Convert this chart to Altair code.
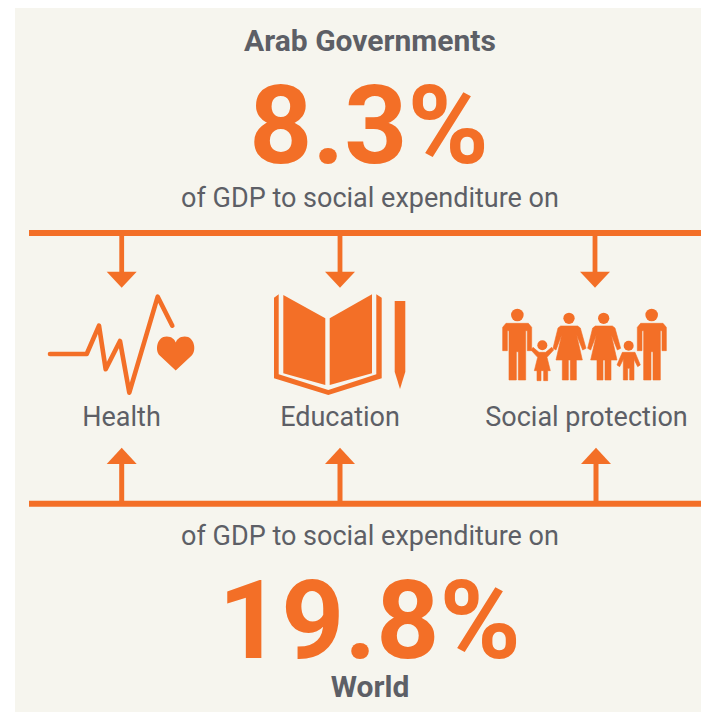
import altair as alt
import pandas as pd

ORANGE = "#F36F27"
PANEL = "#F6F5EE"
INK = "#5D5F66"
BODY = "Roboto"

# ---- text content
top_title = "Arab Governments"
top_value = "8.3%"
bottom_value = "19.8%"
bottom_title = "World"
caption = "of GDP to social expenditure on"
categories = ["Health", "Education", "Social protection"]

# ---- layout (picture pixels)
arrow_top_x = [121.7, 340, 595]
arrow_bottom_x = [121.7, 340, 596]
label_x = [121.5, 340, 586.5]

ecg_x = [50, 86.7, 99, 105.7, 120, 129.3, 157.7, 172.3]
ecg_y = [354, 354, 325.7, 369.3, 341, 392.7, 296.7, 325.7]

book_left = [(283.3, 295), (325.3, 318.3), (325.3, 385), (283.3, 373.3)]
book_right = [(329.7, 318.3), (372, 294.3), (372, 373.3), (329.7, 385)]
book_cover = [(274, 297.7), (278.7, 294.3), (278.7, 374.3), (328.3, 390), (376.3, 374.3),
              (376.3, 294.3), (381.7, 297.7), (381.7, 378.3), (328.3, 395), (274, 378.3)]
pencil = [(394.7, 301), (405.3, 301), (405.3, 371.7), (400, 389), (394.7, 371.7)]

heart_centre = (175.7, 353.5)
heart_path = ("M0,17 L-16,2 C-21,-3 -19,-17 -9,-17 C-4,-17 -1,-14 0,-11 "
              "C1,-14 4,-17 9,-17 C19,-17 21,-3 16,2 Z")

# family figures, in 3x zoom units of the crop at (495, 300)
man = [(23, 82), (33, 70), (100, 70), (110, 82), (110, 152), (97, 152), (97, 92), (92, 92),
       (92, 240), (70, 240), (70, 155), (64, 155), (64, 240), (42, 240), (42, 92), (37, 92),
       (37, 152), (23, 152)]
girl = [(114, 142), (132, 157), (152, 157), (170, 142), (176, 150), (156, 172), (166, 212),
        (158, 212), (158, 242), (146, 242), (146, 212), (138, 212), (138, 242), (126, 242),
        (126, 212), (118, 212), (128, 172), (108, 150)]
woman = [(197, 78), (248, 78), (256, 84), (273, 145), (263, 150), (245, 105), (262, 180),
         (244, 180), (244, 240), (226, 240), (226, 180), (220, 180), (220, 240), (202, 240),
         (202, 180), (183, 180), (200, 105), (183, 150), (174, 145), (189, 84)]
boy = [(382, 157), (420, 157), (436, 195), (428, 200), (417, 178), (417, 240), (404, 240),
       (404, 205), (398, 205), (398, 240), (385, 240), (385, 178), (374, 200), (366, 195)]
heads_zoom = [(67, 45, 12.6), (142, 136, 10), (222, 55, 11.3), (326, 55, 11.3), (401, 137, 10), (470, 45, 12.6)]


def fam(poly, dx=0):
    return [(495 + (px + dx) / 3, 300 + py / 3) for px, py in poly]


def to_row(poly):
    xs = [p[0] for p in poly]
    ys = [p[1] for p in poly]
    ax, ay = (min(xs) + max(xs)) / 2, (min(ys) + max(ys)) / 2
    d = "M" + " L".join(f"{x - ax:.2f},{y - ay:.2f}" for x, y in poly) + " Z"
    return {"x": ax, "y": ay, "path": d}


sharp = [to_row(p) for p in (book_left, book_right, book_cover, pencil)]
for ax in arrow_top_x:
    sharp.append(to_row([(ax - 15, 271.7), (ax + 15, 271.7), (ax, 287.7)]))
for ax in arrow_bottom_x:
    sharp.append(to_row([(ax, 447.7), (ax + 15, 464), (ax - 15, 464)]))
sharp.append({"x": heart_centre[0], "y": heart_centre[1], "path": heart_path})

rounded = [to_row(fam(man)), to_row(fam(girl)), to_row(fam(woman)), to_row(fam(woman, 104)),
           to_row(fam(boy)), to_row(fam(man, 404))]

heads = pd.DataFrame([{"x": 495 + a / 3, "y": 300 + b / 3, "s": d * d} for a, b, d in heads_zoom])

rects = [
    {"x": 15, "x2": 701, "y": 8, "y2": 712, "k": "panel"},
    {"x": 29, "x2": 701, "y": 230, "y2": 236, "k": "line"},
    {"x": 29, "x2": 701, "y": 500.7, "y2": 506.7, "k": "line"},
]
for ax in arrow_top_x:
    rects.append({"x": ax - 2.4, "x2": ax + 2.4, "y": 235, "y2": 272, "k": "line"})
for ax in arrow_bottom_x:
    rects.append({"x": ax - 2.5, "x2": ax + 2.5, "y": 463, "y2": 501, "k": "line"})
rects = pd.DataFrame(rects)

X = alt.X("x:Q", axis=None, scale=alt.Scale(domain=[8, 701], nice=False, zero=False))
Y = alt.Y("y:Q", axis=None, scale=alt.Scale(domain=[712, 8], nice=False, zero=False))

panel = alt.Chart(rects[rects.k == "panel"]).mark_rect(color=PANEL).encode(X, Y, x2="x2:Q", y2="y2:Q")
lines = alt.Chart(rects[rects.k == "line"]).mark_rect(color=ORANGE).encode(X, Y, x2="x2:Q", y2="y2:Q")

ecg = alt.Chart(pd.DataFrame({"x": ecg_x, "y": ecg_y, "i": range(len(ecg_x))})).mark_line(
    color=ORANGE, strokeWidth=4.6, strokeCap="round", strokeJoin="round"
).encode(X, Y, order="i:Q")

sharp_layer = alt.Chart(pd.DataFrame(sharp)).mark_point(
    filled=True, size=4, opacity=1, color=ORANGE, strokeWidth=0
).encode(X, Y, shape=alt.Shape("path:N", scale=None))

round_layer = alt.Chart(pd.DataFrame(rounded)).mark_point(
    filled=True, size=4, opacity=1, color=ORANGE, stroke=ORANGE, strokeWidth=0.6, strokeJoin="round"
).encode(X, Y, shape=alt.Shape("path:N", scale=None))

head_layer = alt.Chart(heads).mark_circle(color=ORANGE, opacity=1).encode(
    X, Y, size=alt.Size("s:Q", scale=None)
)


def label(text, x, y, size, color, bold=False):
    return alt.Chart(pd.DataFrame({"x": [x], "y": [y], "t": [text]})).mark_text(
        font=BODY, fontSize=size, color=color, align="center", baseline="alphabetic",
        fontWeight="bold" if bold else "normal"
    ).encode(X, Y, text="t:N")


texts = [
    label(top_title, 370, 50.7, 30, INK, True),
    label(top_value, 369, 162.7, 110, ORANGE, True),
    label(caption, 370, 206.7, 27, INK),
    label(caption, 370, 545, 27, INK),
    label(bottom_value, 369.5, 657.7, 110, ORANGE, True),
    label(bottom_title, 370, 697.3, 30, INK, True),
]
for name, lx in zip(categories, label_x):
    texts.append(label(name, lx, 425.7, 27, INK))

chart = alt.layer(panel, lines, ecg, sharp_layer, round_layer, head_layer, *texts).properties(
    width=693, height=704, padding=0, background="white",
    autosize=alt.AutoSizeParams(type="none", contains="padding")
).configure_view(stroke=None)

chart.save("out.html", embed_options={"renderer": "svg", "actions": False})
